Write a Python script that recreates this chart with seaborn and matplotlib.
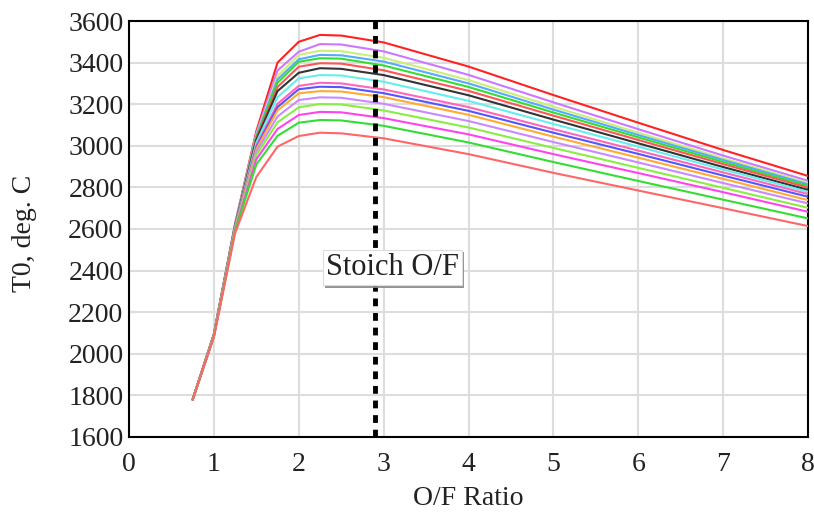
import matplotlib
matplotlib.use("Agg")
import matplotlib.pyplot as plt
import matplotlib.patheffects as pe
import seaborn as sns
import pandas as pd

of_ratio = [0.75, 1.0, 1.25, 1.5, 1.75, 2.0, 2.25, 2.5, 3.0, 4.0, 5.0, 6.0, 7.0, 8.0]

curves = {
    "c01": [1780, 2095, 2625, 3070, 3400, 3500, 3533, 3530, 3497, 3381, 3244, 3111, 2980, 2855],
    "c02": [1780, 2094, 2623, 3060, 3362, 3452, 3489, 3487, 3454, 3341, 3209, 3080, 2953, 2832],
    "c03": [1780, 2093, 2621, 3052, 3335, 3437, 3457, 3455, 3423, 3316, 3188, 3063, 2940, 2822],
    "c04": [1780, 2093, 2620, 3047, 3319, 3416, 3437, 3435, 3405, 3300, 3174, 3052, 2932, 2815],
    "c05": [1780, 2092, 2619, 3042, 3303, 3404, 3421, 3419, 3386, 3283, 3160, 3041, 2922, 2807],
    "c06": [1780, 2092, 2617, 3035, 3283, 3380, 3397, 3395, 3363, 3264, 3145, 3028, 2912, 2799],
    "c07": [1780, 2091, 2615, 3028, 3263, 3351, 3373, 3370, 3340, 3243, 3126, 3012, 2898, 2788],
    "c08": [1780, 2090, 2612, 3015, 3234, 3324, 3340, 3338, 3308, 3216, 3105, 2996, 2886, 2779],
    "c09": [1780, 2089, 2609, 3000, 3202, 3288, 3303, 3300, 3271, 3186, 3080, 2977, 2872, 2768],
    "c10": [1780, 2088, 2607, 2992, 3186, 3272, 3284, 3282, 3253, 3168, 3063, 2961, 2857, 2755],
    "c11": [1780, 2087, 2605, 2984, 3170, 3252, 3263, 3261, 3234, 3149, 3044, 2943, 2841, 2739],
    "c12": [1780, 2086, 2602, 2970, 3141, 3220, 3233, 3231, 3202, 3119, 3018, 2920, 2821, 2723],
    "c13": [1780, 2085, 2598, 2955, 3113, 3185, 3201, 3199, 3170, 3088, 2990, 2894, 2798, 2702],
    "c14": [1780, 2084, 2594, 2935, 3081, 3148, 3163, 3161, 3133, 3055, 2960, 2869, 2777, 2683],
    "c15": [1780, 2082, 2590, 2910, 3048, 3111, 3124, 3122, 3096, 3016, 2922, 2831, 2741, 2651],
    "c16": [1780, 2080, 2580, 2850, 2996, 3047, 3063, 3060, 3036, 2960, 2870, 2785, 2700, 2614],
}

colors = ["#ff2222", "#cc77ff", "#ccee77", "#55aaff", "#33dd33", "#ff5555",
          "#333333", "#66eeee", "#ff66bb", "#5555ff", "#ffaa33", "#cc88ff",
          "#88ee44", "#ff44ee", "#33dd33", "#ff6666"]

stoich_of = 2.9
x_ticks = [0, 1, 2, 3, 4, 5, 6, 7, 8]
y_ticks = [1600, 1800, 2000, 2200, 2400, 2600, 2800, 3000, 3200, 3400, 3600]

rows = []
for name, vals in curves.items():
    for x, t in zip(of_ratio, vals):
        rows.append({"curve": name, "OF": x, "T0": t})
df = pd.DataFrame(rows)

sns.set_theme(style="white")
plt.rcParams["font.family"] = ["Liberation Serif", "DejaVu Serif"]

fig = plt.figure(figsize=(8.14, 5.15), dpi=100)
ax = fig.add_axes([129/814, 1-437/515, (808-129)/814, (437-21)/515])

sns.lineplot(data=df, x="OF", y="T0", hue="curve", palette=colors,
             linewidth=1.5, legend=False, ax=ax, zorder=3)

ax.axvline(stoich_of, color="black", linewidth=3.5, linestyle=(0, (1.6, 1.4)), zorder=4)

txt = ax.text(3.1, 2413, "Stoich O/F", ha="center", va="center", fontsize=22, color="#222222",
              zorder=6,
              bbox=dict(boxstyle="square,pad=0.1", facecolor="white", edgecolor="#dddddd",
                        linewidth=0.8))
txt.get_bbox_patch().set_path_effects([
    pe.SimplePatchShadow(offset=(1.5, -1.5), shadow_rgbFace="#888888", alpha=0.9),
    pe.Normal()])

ax.set_xlim(0, 8)
ax.set_ylim(1600, 3600)
ax.set_xticks(x_ticks)
ax.set_yticks(y_ticks)
ax.set_xticklabels([str(v) for v in x_ticks])
ax.set_yticklabels([str(v) for v in y_ticks])
ax.grid(True, color="#dddddd", linewidth=1.5, zorder=0)
ax.set_axisbelow(True)
for s in ax.spines.values():
    s.set_color("black")
    s.set_linewidth(1.5)
ax.tick_params(axis="both", direction="out", length=4, width=1.2, colors="#555555",
               labelsize=20, labelcolor="#222222")
ax.tick_params(axis="y", pad=0)
ax.tick_params(axis="x", pad=7)
ax.set_xlabel("O/F Ratio", fontsize=20, color="#222222")
ax.set_ylabel("T0, deg. C", fontsize=20, color="#222222")
ax.xaxis.set_label_coords(0.5, -0.118)
ax.yaxis.set_label_coords(-0.135, 0.49)

fig.savefig("out.png", dpi=100)
